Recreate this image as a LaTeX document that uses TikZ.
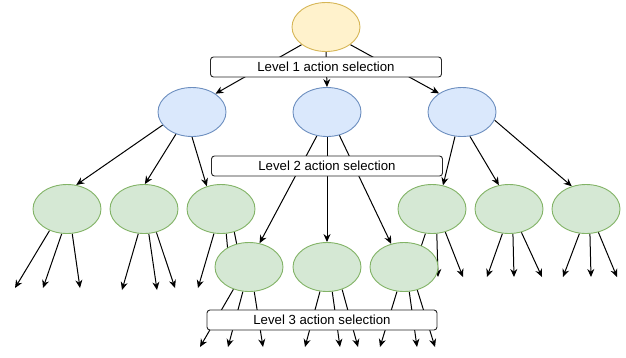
\documentclass[tikz,border=0pt]{standalone}
\usepackage{fontspec}
\setmainfont{Liberation Sans}
\usepackage{tikz}
\usetikzlibrary{shapes,arrows.meta}
\definecolor{yelFill}{HTML}{FFF2CC}
\definecolor{yelLine}{HTML}{D6B656}
\definecolor{bluFill}{HTML}{DAE8FC}
\definecolor{bluLine}{HTML}{6C8EBF}
\definecolor{grnFill}{HTML}{D5E8D4}
\definecolor{grnLine}{HTML}{82B366}
\pgfdeclarelayer{edges}
\pgfsetlayers{edges,main}
\tikzstyle{oval} = [ellipse, line width=0.9pt, minimum width=68pt, minimum height=49pt, inner sep=0pt]
\tikzstyle{rootnode} = [oval, draw=yelLine, fill=yelFill]
\tikzstyle{bluenode} = [oval, draw=bluLine, fill=bluFill]
\tikzstyle{greennode} = [oval, draw=grnLine, fill=grnFill]
\tikzstyle{selbox} = [draw=black!85, line width=0.9pt, rectangle, rounded corners=3pt, fill=white, minimum width=231pt, minimum height=20pt, inner sep=0pt, font=\fontsize{13.2}{15}\selectfont]
\tikzstyle{arr} = [-{Stealth[length=8pt,width=7pt]}, line width=1pt]

\begin{document}
\begin{tikzpicture}[x=1pt,y=-1pt]
\useasboundingbox (0,0) rectangle (626,357);
% root and first selection
\node [rootnode] (root) at (326,27) {};
\node [selbox] (sel1) at (326,67) {Level 1 action selection};
% level 1 choices
\node [bluenode] (m1) at (192,112) {};
\node [bluenode] (m2) at (327,112) {};
\node [bluenode] (m3) at (462,112) {};
\node [selbox] (sel2) at (327,166) {Level 2 action selection};
% level 2 choices
\node [greennode] (g1) at (67,209) {};
\node [greennode] (g2) at (144,209) {};
\node [greennode] (g3) at (221,209) {};
\node [greennode] (g4) at (432,209) {};
\node [greennode] (g5) at (509,209) {};
\node [greennode] (g6) at (586,209) {};
\node [greennode] (h1) at (249,267) {};
\node [greennode] (h2) at (327,267) {};
\node [greennode] (h3) at (404,267) {};
\node [selbox, minimum width=230pt] (sel3) at (322,320) {Level 3 action selection};

% free ends of the leaf arrows
\foreach \s/\i/\x/\y in {g1/1/15/288, g1/2/43/288, g1/3/80/288,
    g2/1/122/290, g2/2/157/290, g2/3/175/288,
    g3/1/198/288, g3/2/231/285, g3/3/245/285,
    g4/1/416/262, g4/2/438/277, g4/3/463/277,
    g5/1/487/277, g5/2/514/277, g5/3/542/277,
    g6/1/563/277, g6/2/591/277, g6/3/617/277,
    h1/1/200/347, h1/2/228/347, h1/3/263/347,
    h2/1/305/347, h2/2/340/347, h2/3/358/347,
    h3/1/380/347, h3/2/417/347, h3/3/435/347}
  \coordinate (\s-\i) at (\x,\y);

\begin{pgfonlayer}{edges}
\draw [arr] (root.216) -- (m1.38);
\draw [arr] (root.south) -- (m2.north);
\draw [arr] (root.324) -- (m3.141);
\draw [arr] (m1.204) -- (g1.69);
\draw [arr] (m1.234) -- (g2.88);
\draw [arr] (m1.south) -- (g3.122);
\draw [arr] (m2.247) -- (h1.66);
\draw [arr] (m2.south) -- (h2.north);
\draw [arr] (m2.298) -- (h3.119);
\draw [arr] (m3.254) -- (g4.65);
\draw [arr] (m3.288) -- (g5.113);
\draw [arr] (m3.346) -- (g6.122);
% leaves
\foreach \s/\a/\b/\c in {g1/231/258/282, g2/257/281/298, g3/254/282/300,
    g4/255/281/300, g5/255/279/298, g6/255/279/298,
    h1/235/256/282, h2/254/282/304, h3/254/282/300} {
  \draw [arr] (\s.\a) -- (\s-1);
  \draw [arr] (\s.\b) -- (\s-2);
  \draw [arr] (\s.\c) -- (\s-3);
}
\end{pgfonlayer}
\end{tikzpicture}
\end{document}
